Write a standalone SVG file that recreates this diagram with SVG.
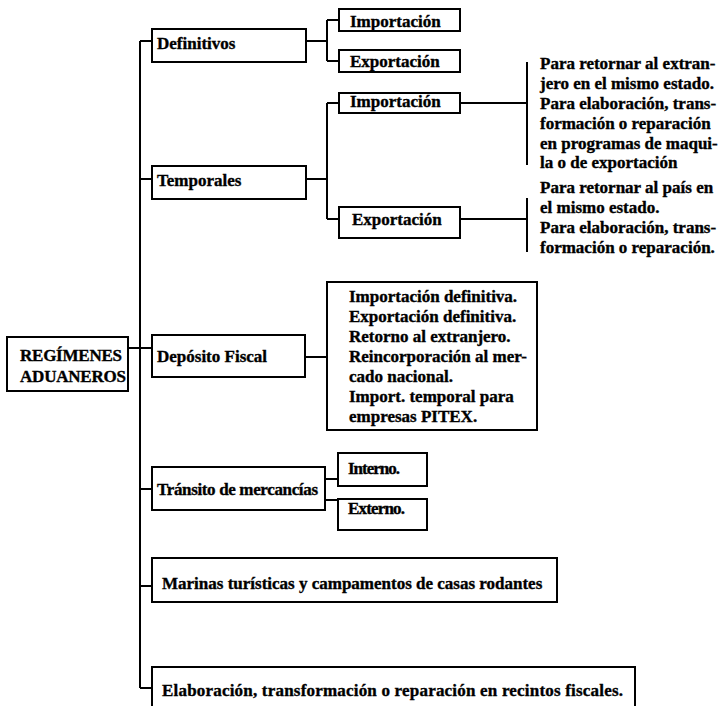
<svg xmlns="http://www.w3.org/2000/svg" width="723" height="706" viewBox="0 0 723 706">
<style>
.box{fill:#fff;stroke:#000;stroke-width:2}
.t{font-family:"Liberation Serif","Times New Roman",serif;font-weight:bold;font-size:17px;fill:#000;stroke:#000;stroke-width:0.35}
.c{fill:none;stroke:#000;stroke-width:2}
</style>
<rect width="723" height="706" fill="#fff"/>
<g id="connectors">
<path class="c" d="M140,41 V688 M140,41 H152 M140,179 H152 M128,348 H152 M140,489 H152 M140,586 H152 M140,688 H152"/>
<path class="c" d="M306,41 H327 M327,20 V61 M327,20 H339 M327,61 H339"/>
<path class="c" d="M306,179 H327 M327,103 V219 M327,103 H339 M327,219 H339"/>
<path class="c" d="M460,103 H527 M527,62 V165 M460,219 H527 M527,198 V252"/>
<path class="c" d="M305,357 H327"/>
<path class="c" d="M325,479 H338 M325,500 H338"/>
</g>
<g id="root"><rect class="box" x="7" y="337" width="121" height="54"/><text class="t" x="20" y="361" textLength="102" lengthAdjust="spacing">REGÍMENES</text><text class="t" x="20" y="382" textLength="106" lengthAdjust="spacing">ADUANEROS</text></g>
<g id="definitivos"><rect class="box" x="152" y="29" width="154" height="33"/><text class="t" x="157" y="49">Definitivos</text></g>
<g id="def-importacion"><rect class="box" x="339" y="9" width="121" height="22"/><text class="t" x="350" y="27">Importación</text></g>
<g id="def-exportacion"><rect class="box" x="339" y="50" width="121" height="22"/><text class="t" x="350" y="67">Exportación</text></g>
<g id="temporales"><rect class="box" x="152" y="166" width="154" height="33"/><text class="t" x="157" y="186">Temporales</text></g>
<g id="temp-importacion"><rect class="box" x="339" y="93" width="121" height="20"/><text class="t" x="350" y="107">Importación</text></g>
<g id="temp-exportacion"><rect class="box" x="339" y="207" width="121" height="31"/><text class="t" x="352" y="225">Exportación</text></g>
<g id="temp-imp-text"><text class="t" x="540" y="69">Para retornar al extran-</text><text class="t" x="540" y="89">jero en el mismo estado.</text><text class="t" x="540" y="109">Para elaboración, trans-</text><text class="t" x="540" y="129">formación o reparación</text><text class="t" x="540" y="149">en programas de maqui-</text><text class="t" x="540" y="168">la o de exportación</text></g>
<g id="temp-exp-text"><text class="t" x="540" y="193">Para retornar al país en</text><text class="t" x="540" y="213">el mismo estado.</text><text class="t" x="540" y="233">Para elaboración, trans-</text><text class="t" x="540" y="253">formación o reparación.</text></g>
<g id="deposito"><rect class="box" x="152" y="335" width="153" height="42"/><text class="t" x="157" y="362">Depósito Fiscal</text></g>
<g id="deposito-lista"><rect class="box" x="327" y="282" width="210" height="148"/><text class="t" x="349" y="302">Importación definitiva.</text><text class="t" x="349" y="322">Exportación definitiva.</text><text class="t" x="349" y="342">Retorno al extranjero.</text><text class="t" x="349" y="362">Reincorporación al mer-</text><text class="t" x="349" y="382">cado nacional.</text><text class="t" x="349" y="402">Import. temporal para</text><text class="t" x="349" y="422">empresas PITEX.</text></g>
<g id="transito"><rect class="box" x="152" y="467" width="173" height="43"/><text class="t" x="157" y="495" textLength="161" lengthAdjust="spacing">Tránsito de mercancías</text></g>
<g id="interno"><rect class="box" x="338" y="453" width="89" height="33"/><text class="t" x="348" y="474" textLength="52" lengthAdjust="spacing">Interno.</text></g>
<g id="externo"><rect class="box" x="338" y="499" width="89" height="31"/><text class="t" x="348" y="514" textLength="57" lengthAdjust="spacing">Externo.</text></g>
<g id="marinas"><rect class="box" x="152" y="558" width="405" height="44"/><text class="t" x="162" y="589">Marinas turísticas y campamentos de casas rodantes</text></g>
<g id="elaboracion"><rect class="box" x="152" y="667" width="483" height="50"/><text class="t" x="162" y="696" textLength="461" lengthAdjust="spacing">Elaboración, transformación o reparación en recintos fiscales.</text></g>
</svg>
